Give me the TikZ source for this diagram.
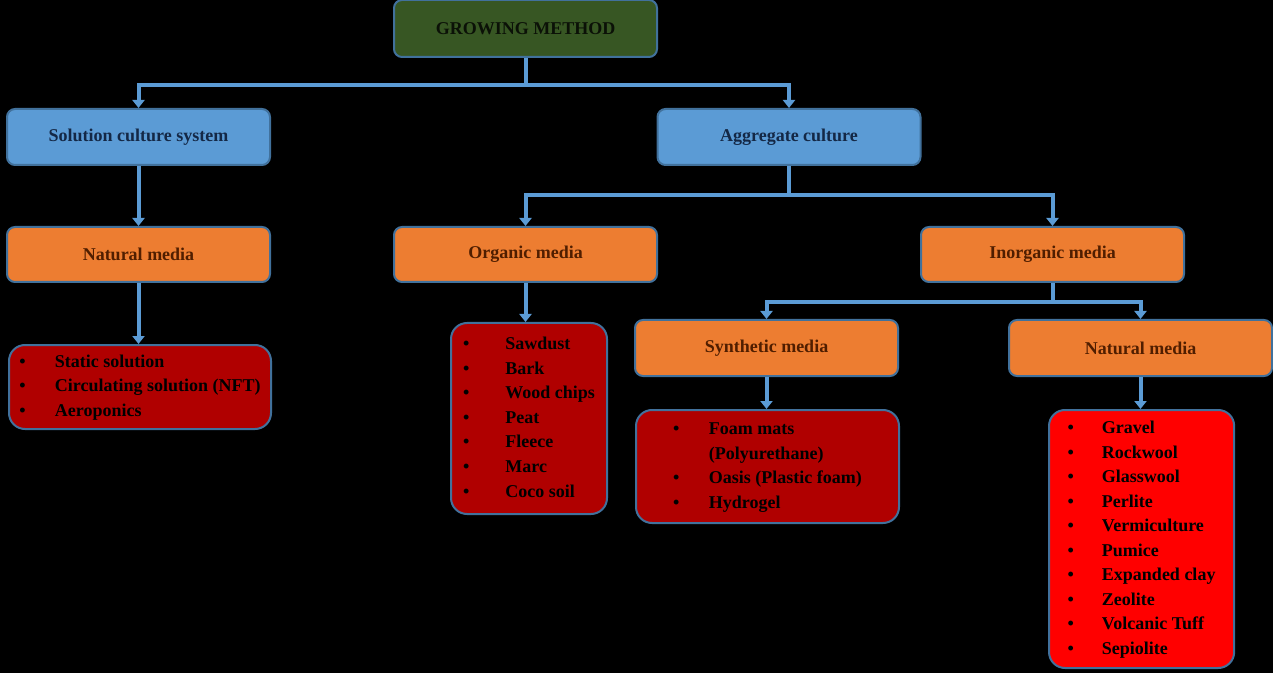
\documentclass[tikz,border=0pt]{standalone}
\usepackage{fontspec}
\setmainfont{Liberation Serif}
\usetikzlibrary{arrows.meta}
\definecolor{gmg}{HTML}{375623}
\definecolor{bord}{HTML}{41719C}
\definecolor{bl}{HTML}{5B9BD5}
\definecolor{org}{HTML}{ED7D31}
\definecolor{dred}{HTML}{B00000}
\definecolor{lin}{HTML}{5B9BD5}
\newcommand{\myitems}[2]{\fontsize{13.5pt}{18.4pt}\selectfont\bfseries\begin{tabular}{@{}l@{\hspace{#1pt}}l@{}}#2\end{tabular}}
\begin{document}
\begin{tikzpicture}[x=0.75pt,y=-0.75pt,
 box/.style={draw=bord,line width=1.5pt,rounded corners=6pt,inner sep=0pt,font=\fontsize{13.5pt}{16pt}\selectfont\bfseries},
 lst/.style={box,rounded corners=12pt,anchor=west,inner xsep=#1pt,align=left},
 con/.style={draw=lin,line width=3pt,-{Triangle[length=6pt,width=9pt]}},
 ln/.style={draw=lin,line width=3pt}]
\fill[black] (0,0) rectangle (1273,673);
\useasboundingbox (0,0) rectangle (1273,673);
\node[box,fill=gmg,text=black!80!gmg,minimum width=263*0.75pt,minimum height=57*0.75pt] (gm) at (525.5,28.5) {GROWING METHOD};
\node[box,fill=bl,text={rgb,255:red,20;green,40;blue,70},minimum width=263*0.75pt,minimum height=56*0.75pt] (sol) at (138.5,137) {Solution culture system};
\node[box,fill=bl,text={rgb,255:red,20;green,40;blue,70},minimum width=263*0.75pt,minimum height=56*0.75pt] (agg) at (789,137) {Aggregate culture};
\node[box,fill=org,text={rgb,255:red,80;green,30;blue,0},minimum width=263*0.75pt,minimum height=55*0.75pt] (nat1) at (138.5,254.5) {Natural media};
\node[box,fill=org,text={rgb,255:red,80;green,30;blue,0},minimum width=263*0.75pt,minimum height=55*0.75pt] (orgm) at (525.5,254.5) {Organic media};
\node[box,fill=org,text={rgb,255:red,80;green,30;blue,0},minimum width=263*0.75pt,minimum height=55*0.75pt] (inorg) at (1052.5,254.5) {Inorganic media};
\node[box,fill=org,text={rgb,255:red,80;green,30;blue,0},minimum width=263*0.75pt,minimum height=56*0.75pt] (syn) at (766.5,348) {Synthetic media};
\node[box,fill=org,text={rgb,255:red,80;green,30;blue,0},minimum width=263*0.75pt,minimum height=56*0.75pt] (nat2) at (1140.5,348) {Natural media};
\node[lst=4.5,fill=dred,minimum width=262*0.75pt,minimum height=84*0.75pt] (l1) at (8,387) {\myitems{22}{•&Static solution\\•&Circulating solution (NFT)\\•&Aeroponics}};
\node[lst=9,fill=dred,minimum width=156*0.75pt,minimum height=191*0.75pt] (l2) at (450,418.5) {\myitems{27}{•&Sawdust\\•&Bark\\•&Wood chips\\•&Peat\\•&Fleece\\•&Marc\\•&Coco soil}};
\node[lst=24,fill=dred,minimum width=263*0.75pt,minimum height=113*0.75pt] (l3) at (635,466.5) {\myitems{22}{•&Foam mats\\&(Polyurethane)\\•&Oasis (Plastic foam)\\•&Hydrogel}};
\node[lst=14,fill=red,minimum width=185*0.75pt,minimum height=258*0.75pt] (l4) at (1048,539) {\myitems{21}{•&Gravel\\•&Rockwool\\•&Glasswool\\•&Perlite\\•&Vermiculture\\•&Pumice\\•&Expanded clay\\•&Zeolite\\•&Volcanic Tuff\\•&Sepiolite}};
\coordinate (j1) at (525.5,85);
\draw[ln] (gm.south) -- (j1);
\draw[con] (j1) -| (sol.north);
\draw[con] (j1) -| (agg.north);
\coordinate (j2) at (789,195);
\draw[ln] (agg.south) -- (j2);
\draw[con] (j2) -| (orgm.north);
\draw[con] (j2) -| (inorg.north);
\coordinate (j3) at (1052.5,302);
\draw[ln] (inorg.south) -- (j3);
\draw[con] (j3) -| (syn.north);
\draw[con] (j3) -| (nat2.north);
\draw[con] (sol.south) -- (nat1.north);
\draw[con] (nat1.south) -- (nat1.south|-l1.north);
\draw[con] (orgm.south) -- (orgm.south|-l2.north);
\draw[con] (syn.south) -- (syn.south|-l3.north);
\draw[con] (nat2.south) -- (nat2.south|-l4.north);
\end{tikzpicture}
\end{document}
